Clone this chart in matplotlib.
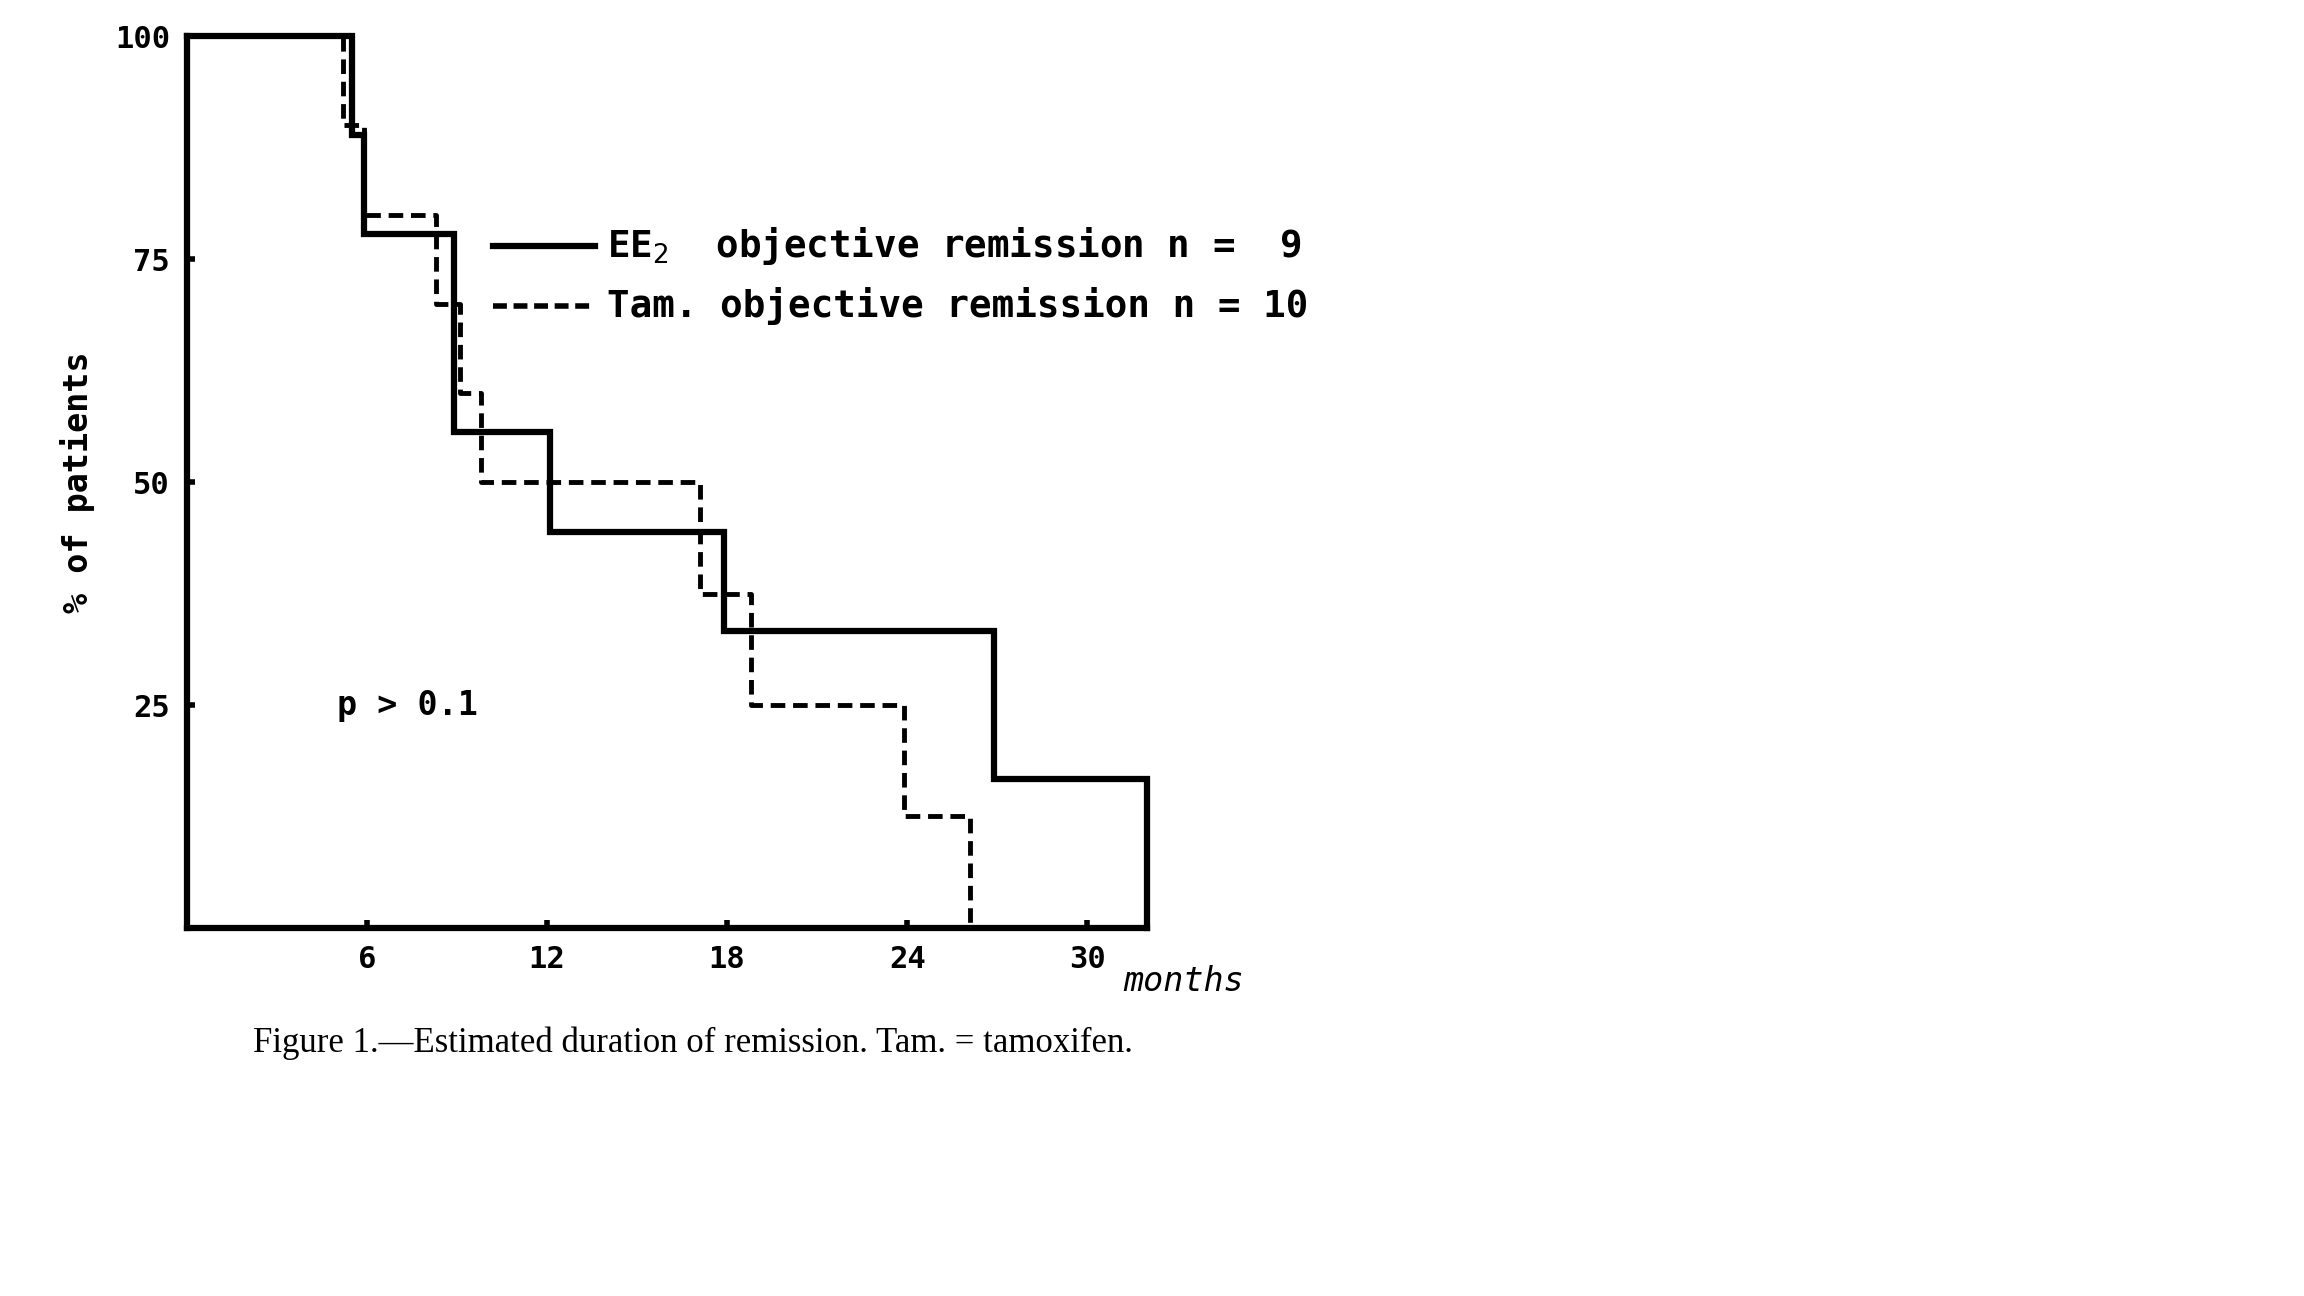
import matplotlib
matplotlib.use("Agg")
import matplotlib.pyplot as plt

# EE2 (solid) step curve: times of drops and survival levels
ee2_t = [0, 5.5, 5.9, 8.9, 12.1, 17.9, 26.9, 32.0]
ee2_s = [100, 88.9, 77.8, 55.6, 44.4, 33.3, 16.7, 0]
# Tamoxifen (dashed)
tam_t = [0, 5.2, 5.9, 8.3, 9.1, 9.8, 17.1, 18.8, 23.9, 26.1]
tam_s = [100, 90, 80, 70, 60, 50, 37.5, 25, 12.5, 0]

xticks = [6, 12, 18, 24, 30]
yticks = [25, 50, 75, 100]

fig = plt.figure(figsize=(23.04, 12.96), dpi=100)
ax = fig.add_axes([0.081, 0.284, 0.430, 0.688])
ax.set_xlim(0, 33)
ax.set_ylim(0, 100)

ax.step(ee2_t, ee2_s, where='post', color='black', lw=4.5, solid_joinstyle='miter', clip_on=False)
ax.step(tam_t, tam_s, where='post', color='black', lw=3.5, ls=(0, (3, 1.6)), clip_on=False)

for s in ['top', 'right']:
    ax.spines[s].set_visible(False)
ax.spines['left'].set_linewidth(4.5)
ax.spines['bottom'].set_linewidth(4.5)
ax.spines['bottom'].set_bounds(0, 32)

mono = 'DejaVu Sans Mono'
ax.set_xticks(xticks)
ax.set_xticklabels([str(v) for v in xticks], family=mono, fontsize=22, fontweight='bold')
ax.set_yticks(yticks)
ax.set_yticklabels([str(v) for v in yticks], family=mono, fontsize=22, fontweight='bold')
ax.tick_params(direction='in', length=6, width=4, pad=12)
ax.text(31.2, -4.2, 'months', family=mono, fontsize=24, va='top', ha='left', fontstyle='italic')
ax.set_ylabel('% of patients', family=mono, fontsize=24, fontweight='bold', labelpad=14)

ax.plot([10.2, 13.6], [76.5, 76.5], color='black', lw=4.5, clip_on=False)
ax.plot([10.2, 13.6], [69.8, 69.8], color='black', lw=4, ls=(0, (2.5, 1.2)), clip_on=False)
ax.text(14.0, 76.5, 'EE$_2$  objective remission n =  9', family=mono, fontsize=27,
        fontweight='bold', va='center')
ax.text(14.0, 69.8, 'Tam. objective remission n = 10', family=mono, fontsize=27,
        fontweight='bold', va='center')
ax.text(5.0, 25, 'p > 0.1', family=mono, fontsize=24, fontweight='bold', va='center')

fig.text(0.11, 0.195, 'Figure 1.\u2014Estimated duration of remission. Tam. = tamoxifen.',
         family='Liberation Serif', fontsize=25, va='center')

fig.savefig('out.png', dpi=100)
